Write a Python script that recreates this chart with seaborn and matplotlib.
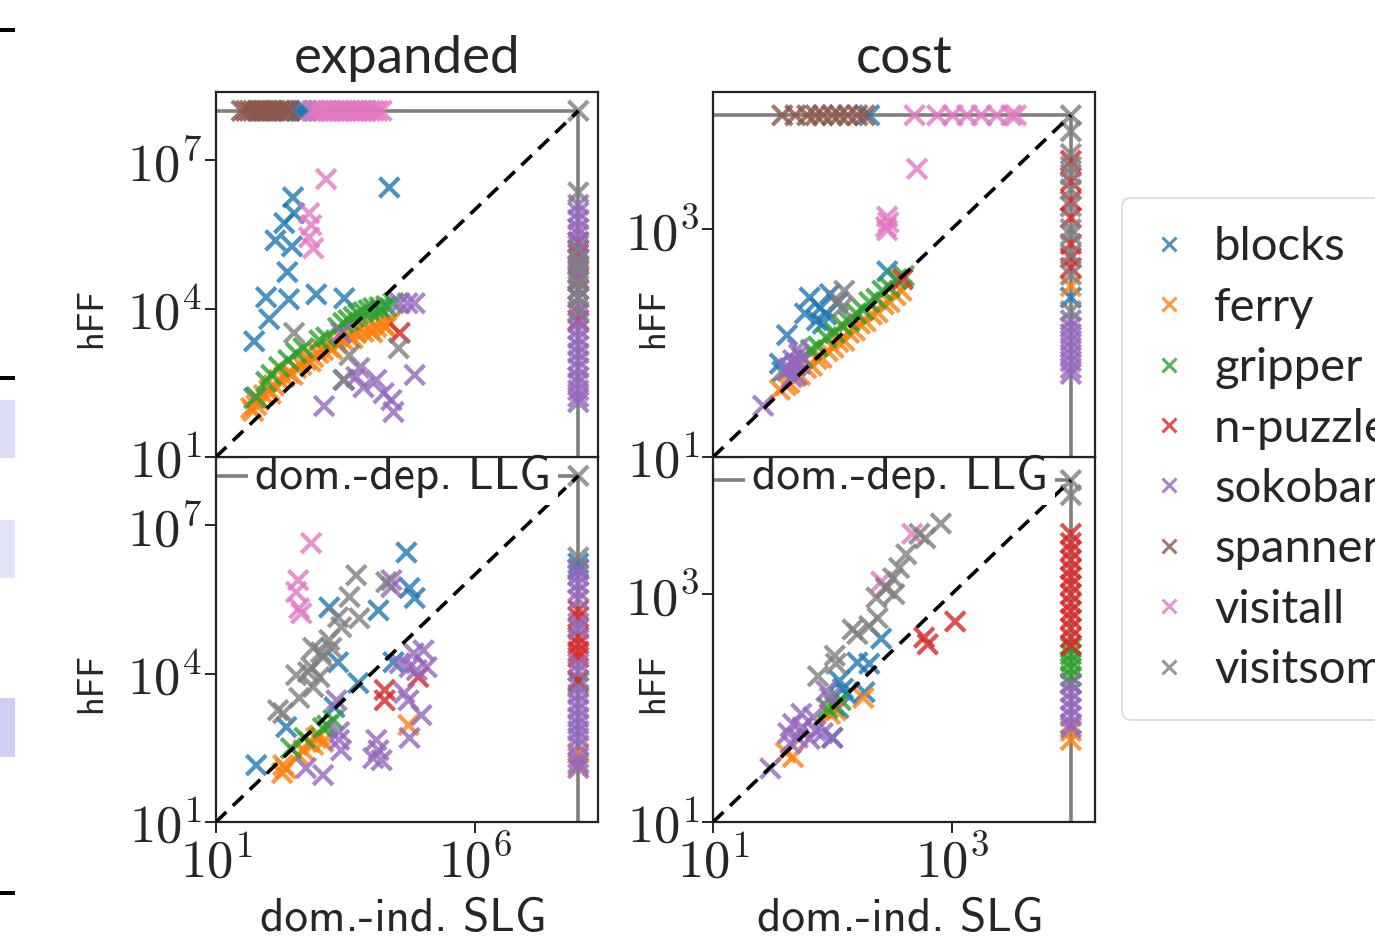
import matplotlib
matplotlib.use("Agg")
import matplotlib.pyplot as plt
import pandas as pd
import seaborn as sns
from matplotlib.lines import Line2D
from matplotlib.patches import Rectangle
from matplotlib.ticker import NullLocator

DOMAINS = ["blocks", "ferry", "gripper", "n-puzzle", "sokoban",
           "spanner", "visitall", "visitsome"]

# values are log10 (x, y); None = not solved -> drawn on the limit line
FAIL_EXPANDED = 1e8
FAIL_COST = 1e4
N = None

EXP_TICKS_X = [1, 6]
EXP_TICKS_Y = [1, 4, 7]
COST_TICKS = [1, 3]

# expanded, x = dom.-dep. LLG
exp_llg = {
    "blocks": [(4.35, 6.45), (2.49, 6.25), (2.51, 5.93), (2.32, 5.73), (2.15, 5.38),
               (2.47, 5.26), (2.38, 4.74), (1.97, 4.23), (2.41, 4.19), (2.94, 4.29),
               (3.48, 4.21), (2.03, 3.79), (1.74, 3.34), (1.74, 2.19), (4.18, 3.97),
               (2.57, N), (2.66, N), (2.74, N)],
    "ferry": [(1.68, 1.99), (1.78, 2.05), (1.83, 2.15), (1.93, 2.25), (2.03, 2.35),
              (2.12, 2.45), (2.22, 2.56), (2.32, 2.62), (2.41, 2.70), (2.55, 2.80),
              (2.65, 2.86), (2.74, 2.96), (2.88, 3.02), (2.98, 3.10), (3.07, 3.16),
              (3.19, 3.22), (3.33, 3.30), (3.46, 3.36), (3.58, 3.42), (3.71, 3.51),
              (3.85, 3.53), (3.97, 3.57), (4.10, 3.63), (4.24, 3.67), (4.35, 3.71),
              (1.72, 1.93), (2.06, 2.28), (2.48, 2.66), (2.83, 2.93), (3.25, 3.18),
              (3.64, 3.40), (4.02, 3.52), (4.28, 3.62)],
    "gripper": [(1.78, 2.21), (1.97, 2.52), (2.07, 2.66), (2.22, 2.82), (2.40, 2.96),
                (2.55, 3.10), (2.69, 3.20), (3.00, 3.36), (3.13, 3.42), (3.36, 3.61),
                (3.46, 3.71), (3.56, 3.77), (3.66, 3.83), (3.75, 3.89), (3.85, 3.93),
                (3.95, 3.97), (4.04, 4.01), (4.16, 4.03), (4.29, 4.05), (4.43, 4.11)],
    "n-puzzle": [(4.55, 3.51), (N, 5.34), (N, 5.10), (N, 4.60), (N, 3.77)],
    "sokoban": [(4.55, 4.11), (4.70, 4.11), (4.84, 4.11), (3.42, 3.51), (3.77, 2.80),
                (3.71, 2.62), (3.48, 2.56), (3.85, 2.41), (4.10, 2.56), (4.24, 2.29),
                (4.39, 2.15), (4.43, 1.91), (4.84, 2.66), (3.09, 2.03),
                (N, 6.10), (N, 5.95), (N, 5.80), (N, 5.62), (N, 5.50), (N, 5.35),
                (N, 5.18), (N, 5.00), (N, 4.88), (N, 4.70), (N, 4.55), (N, 4.40),
                (N, 4.22), (N, 4.05), (N, 3.90), (N, 3.72), (N, 3.58), (N, 3.40),
                (N, 3.25), (N, 3.10), (N, 2.95), (N, 2.80), (N, 2.62), (N, 2.50),
                (N, 2.35), (N, 2.22), (N, 2.11)],
    "spanner": [(1.50, N), (1.58, N), (1.65, N), (1.72, N), (1.80, N), (1.86, N),
                (1.93, N), (2.00, N), (2.08, N), (2.15, N), (2.22, N), (2.30, N),
                (2.38, N), (2.43, N)],
    "visitall": [(3.13, 6.62), (2.80, 5.93), (2.84, 5.69), (2.80, 5.44), (2.88, 5.22),
                 (2.85, N), (2.92, N), (3.00, N), (3.08, N), (3.15, N), (3.22, N),
                 (3.30, N), (3.38, N), (3.45, N), (3.52, N), (3.60, N), (3.68, N),
                 (3.75, N), (3.83, N), (3.90, N), (3.98, N), (4.05, N), (4.12, N),
                 (4.20, N)],
    "visitsome": [(2.51, 3.51), (3.58, 3.06), (4.53, 3.20), (3.46, 2.56), (N, N),
                  (N, 6.35), (N, 5.20), (N, 4.98), (N, 4.80), (N, 4.55), (N, 4.38),
                  (N, 4.22), (N, 3.95)],
}

# cost, x = dom.-dep. LLG
cost_llg = {
    "blocks": [(2.46, 2.63), (1.81, 2.40), (1.98, 2.43), (2.04, 2.35), (1.77, 2.26),
               (1.87, 2.20), (1.92, 2.17), (1.62, 2.07), (1.56, 1.82), (1.90, 2.31),
               (1.95, 2.25), (1.58, 1.75), (2.31, N), (N, 2.40)],
    "ferry": [(1.56, 1.59), (1.61, 1.63), (1.64, 1.65), (1.69, 1.71), (1.73, 1.72),
              (1.78, 1.78), (1.83, 1.80), (1.87, 1.86), (1.91, 1.87), (1.96, 1.93),
              (2.01, 1.96), (2.05, 2.01), (2.10, 2.02), (2.14, 2.09), (2.19, 2.11),
              (2.23, 2.17), (2.28, 2.19), (2.33, 2.25), (2.38, 2.27), (2.43, 2.34),
              (2.48, 2.36), (2.53, 2.42), (2.58, 2.46), (N, 2.50)],
    "gripper": [(1.75, 1.87), (1.82, 1.94), (1.88, 1.97), (1.95, 2.05), (2.02, 2.09),
                (2.08, 2.16), (2.14, 2.19), (2.20, 2.26), (2.26, 2.29), (2.31, 2.36),
                (2.37, 2.39), (2.42, 2.46), (2.48, 2.49), (2.54, 2.56), (2.60, 2.59)],
    "n-puzzle": [(2.59, 2.56), (N, 3.60), (N, 3.42), (N, 3.25), (N, 3.10), (N, 2.87),
                 (N, 2.75), (N, 2.66)],
    "sokoban": [(1.64, 1.78), (1.67, 1.85), (1.70, 1.72), (1.72, 1.90), (1.66, 1.70),
                (1.69, 1.80), (1.73, 1.82), (1.62, 1.76), (1.71, 1.95), (1.42, 1.45),
                (N, 2.20), (N, 2.14), (N, 2.08), (N, 2.02), (N, 1.96), (N, 1.90),
                (N, 1.84), (N, 1.78), (N, 1.73)],
    "spanner": [(1.58, N), (1.69, N), (1.79, N), (1.86, N), (1.92, N), (2.00, N),
                (2.06, N), (2.13, N), (2.21, N), (2.27, N)],
    "visitall": [(2.71, 3.53), (2.46, 3.11), (2.47, 3.06), (2.45, 3.02), (2.46, 2.99),
                 (2.69, N), (2.88, N), (3.01, N), (3.13, N), (3.25, N), (3.38, N),
                 (3.50, N), (3.54, N)],
    "visitsome": [(2.10, 2.46), (2.05, 2.37), (2.08, 2.31), (N, N), (N, 3.86),
                  (N, 3.66), (N, 3.55), (N, 3.48), (N, 3.35), (N, 3.20), (N, 3.00),
                  (N, 2.95), (N, 2.78), (N, 2.60), (N, 2.28)],
}

# expanded, x = dom.-ind. SLG
exp_slg = {
    "blocks": [(4.68, 6.45), (4.74, 5.73), (4.84, 5.53), (3.19, 5.34), (4.14, 5.28),
               (3.36, 4.23), (3.75, 3.81), (4.43, 4.23), (2.36, 2.92), (1.78, 2.15),
               (3.29, 3.32), (N, 6.23), (N, 6.10)],
    "ferry": [(2.30, 2.15), (2.28, 1.99), (2.35, 2.08), (2.69, 2.45), (2.94, 2.70),
              (3.07, 2.62), (2.88, 2.56), (4.72, 2.96), (2.59, 2.35), (2.80, 2.62),
              (3.00, 2.75), (N, 2.39), (N, 2.15)],
    "gripper": [(3.27, 3.06), (3.07, 2.90), (2.71, 2.70), (2.45, 2.49), (3.15, 2.95),
                (N, 3.82)],
    "n-puzzle": [(4.26, 3.67), (4.26, 3.46), (4.91, 3.93), (N, 5.28), (N, 5.14),
                 (N, 4.74), (N, 4.60), (N, 4.45), (N, 4.33), (N, 3.87)],
    "sokoban": [(4.39, 5.89), (4.39, 5.75), (4.55, 4.21), (4.82, 4.41), (5.01, 4.47),
                (4.88, 4.07), (4.74, 4.13), (5.07, 4.13), (4.64, 3.61), (4.72, 3.46),
                (4.97, 3.16), (4.74, 2.70), (3.33, 3.46), (3.38, 2.82), (3.38, 2.66),
                (3.42, 2.45), (4.10, 2.66), (4.14, 2.45), (4.04, 2.29), (4.20, 2.25),
                (2.74, 2.09), (3.07, 1.95),
                (N, 6.12), (N, 5.98), (N, 5.82), (N, 5.66), (N, 5.50), (N, 5.02),
                (N, 4.90), (N, 4.20), (N, 4.05), (N, 3.72), (N, 3.58), (N, 3.42),
                (N, 3.28), (N, 3.12), (N, 2.98), (N, 2.84), (N, 2.70), (N, 2.55),
                (N, 2.30), (N, 2.20), (N, 2.09)],
    "spanner": [],
    "visitall": [(2.84, 6.64), (2.59, 5.89), (2.55, 5.65), (2.61, 5.32), (2.65, 5.22)],
    "visitsome": [(3.71, 5.99), (3.58, 5.55), (3.77, 5.12), (4.29, 5.85), (3.36, 5.14),
                  (3.42, 4.94), (3.19, 4.68), (3.23, 4.52), (3.03, 4.43), (2.88, 4.52),
                  (3.07, 4.33), (2.84, 4.13), (3.00, 3.93), (2.55, 3.97), (2.78, 4.03),
                  (2.88, 3.73), (2.61, 3.51), (2.20, 3.26), (2.30, 3.20),
                  (N, N), (N, 6.35)],
}

# cost, x = dom.-ind. SLG
cost_slg = {
    "blocks": [(2.41, 2.61), (2.21, 2.40), (2.31, 2.39), (2.06, 2.24), (2.09, 2.17),
               (2.27, 2.14), (2.05, 2.00), (2.00, 1.74), (2.12, 2.12)],
    "ferry": [(2.26, 2.09), (1.98, 1.95), (2.03, 1.98), (1.61, 1.61), (1.67, 1.57),
              (N, 1.80), (N, 1.72)],
    "gripper": [(2.07, 2.07), (2.02, 2.02), (1.96, 2.00), (N, 2.53), (N, 2.47),
                (N, 2.41), (N, 2.35), (N, 2.28), (N, 2.22)],
    "n-puzzle": [(3.03, 2.76), (2.77, 2.62), (2.80, 2.56), (N, 3.53), (N, 3.45),
                 (N, 3.38), (N, 3.30), (N, 3.22), (N, 3.15), (N, 3.08), (N, 3.00),
                 (N, 2.92), (N, 2.85), (N, 2.78), (N, 2.70), (N, 2.62), (N, 2.55)],
    "sokoban": [(1.95, 2.15), (1.98, 2.09), (1.74, 1.95), (1.84, 1.92), (1.67, 1.86),
                (1.75, 1.83), (1.86, 1.80), (1.63, 1.78), (1.71, 1.74), (1.81, 1.73),
                (1.65, 1.69), (2.00, 1.74), (1.92, 1.78), (1.48, 1.47),
                (N, 2.21), (N, 2.14), (N, 2.07), (N, 2.00), (N, 1.93), (N, 1.86),
                (N, 1.83)],
    "spanner": [],
    "visitall": [(2.67, 3.53), (2.41, 3.11), (2.45, 3.07)],
    "visitsome": [(2.91, 3.62), (2.73, 3.53), (2.78, 3.49), (2.62, 3.35), (2.56, 3.23),
                  (2.51, 3.14), (2.45, 3.05), (2.37, 2.97), (2.52, 3.00), (2.38, 2.79),
                  (2.31, 2.72), (2.17, 2.69), (2.21, 2.65), (2.02, 2.46), (2.03, 2.39),
                  (1.88, 2.28), (N, N), (N, 3.87)],
}

# stray bits of the neighbouring figure visible on the left edge
edge_ticks_y = [30, 378, 893]
edge_boxes = [(400, 458, "#dcdcf6"), (520, 578, "#e4e4f8"), (698, 757, "#cfcff4")]


def to_frame(points, fail):
    rows = []
    for dom, pts in points.items():
        for x, y in pts:
            rows.append((fail if x is None else 10 ** x,
                         fail if y is None else 10 ** y, dom))
    return pd.DataFrame(rows, columns=["x", "y", "domain"])


def set_log_ticks(axis, exps):
    axis.set_ticks([10.0 ** e for e in exps])
    axis.set_ticklabels([rf"$10^{{{e}}}$" for e in exps])
    axis.set_minor_locator(NullLocator())


sns.set_theme(style="ticks")
plt.rcParams["mathtext.fontset"] = "cm"
plt.rcParams["axes.edgecolor"] = "#222222"
plt.rcParams["axes.linewidth"] = 1.6

palette = dict(zip(DOMAINS, sns.color_palette("tab10", len(DOMAINS))))

fig, axes = plt.subplots(2, 2, figsize=(13.75, 9.42), dpi=100,
                         sharex="col", sharey="col")
fig.subplots_adjust(left=0.157, right=0.7965, bottom=0.1274, top=0.9023,
                    wspace=0.301, hspace=0)

panels = [
    (axes[0, 0], exp_llg, FAIL_EXPANDED, 2.4e8),
    (axes[0, 1], cost_llg, FAIL_COST, 1.6e4),
    (axes[1, 0], exp_slg, FAIL_EXPANDED, 2.4e8),
    (axes[1, 1], cost_slg, FAIL_COST, 1.6e4),
]

for ax, points, fail, top in panels:
    df = to_frame(points, fail)
    ax.plot([10, fail], [fail, fail], color="gray", lw=2.6, zorder=1)
    ax.plot([fail, fail], [10, fail], color="gray", lw=2.6, zorder=1)
    sns.scatterplot(data=df, x="x", y="y", hue="domain", hue_order=DOMAINS,
                    palette=palette, marker="x", s=200, linewidth=3,
                    alpha=0.8, legend=False, ax=ax, zorder=2)
    ax.plot([10, fail], [10, fail], color="black", ls=(0, (4, 2.5)), lw=2.6, zorder=3)
    ax.set_xscale("log")
    ax.set_yscale("log")
    ax.set_xlim(10, top)
    ax.set_ylim(10, top)
    if fail == FAIL_EXPANDED:
        set_log_ticks(ax.xaxis, EXP_TICKS_X)
        set_log_ticks(ax.yaxis, EXP_TICKS_Y)
    else:
        set_log_ticks(ax.xaxis, COST_TICKS)
        set_log_ticks(ax.yaxis, COST_TICKS)
    ax.tick_params(labelsize=38, length=8, width=1.4, pad=2)
    ax.set_ylabel("hFF", fontfamily="cmss10", fontsize=26)

for ax in axes[0]:
    ax.tick_params(labelbottom=False)
    ax.set_zorder(5)
    ax.set_xlabel("dom.-dep. LLG", fontfamily="cmss10", fontsize=34,
                  bbox=dict(facecolor="white", edgecolor="none", pad=5))
    ax.xaxis.label.set_visible(True)
    ax.xaxis.set_label_coords(0.49, 0.006)
for ax in axes[1]:
    ax.set_xlabel("dom.-ind. SLG", fontfamily="cmss10", fontsize=34)
    ax.xaxis.set_label_coords(0.49, -0.207)

axes[0, 0].yaxis.set_label_coords(-0.283, 0.38)
axes[1, 0].yaxis.set_label_coords(-0.283, 0.38)
axes[0, 1].yaxis.set_label_coords(-0.113, 0.38)
axes[1, 1].yaxis.set_label_coords(-0.113, 0.38)

axes[0, 0].set_title("expanded", fontfamily="Lato", fontsize=38, pad=14)
axes[0, 1].set_title("cost", fontfamily="Lato", fontsize=38, pad=14)

handles = [Line2D([], [], ls="", marker="x", color=palette[d], markersize=10,
                  markeredgewidth=2.2, alpha=0.8) for d in DOMAINS]
leg = fig.legend(handles, DOMAINS, loc="upper left",
                 bbox_to_anchor=(1122 / 1375, 1 - 198 / 942),
                 prop={"family": "Lato", "size": 34}, frameon=True, fancybox=True,
                 handlelength=0.8, handletextpad=0.55, labelspacing=0.39,
                 borderpad=0.6, borderaxespad=0)
leg.get_frame().set_edgecolor("#d0d0d0")
leg.get_frame().set_linewidth(1.2)

W, H = 1375, 942
for y in edge_ticks_y:
    fig.add_artist(Rectangle((0, 1 - (y + 2) / H), 15 / W, 4 / H,
                             transform=fig.transFigure, color="black", lw=0))
for y0, y1, c in edge_boxes:
    fig.add_artist(Rectangle((0, 1 - y1 / H), 15 / W, (y1 - y0) / H,
                             transform=fig.transFigure, color=c, lw=0))

fig.savefig("out.png", dpi=100)
